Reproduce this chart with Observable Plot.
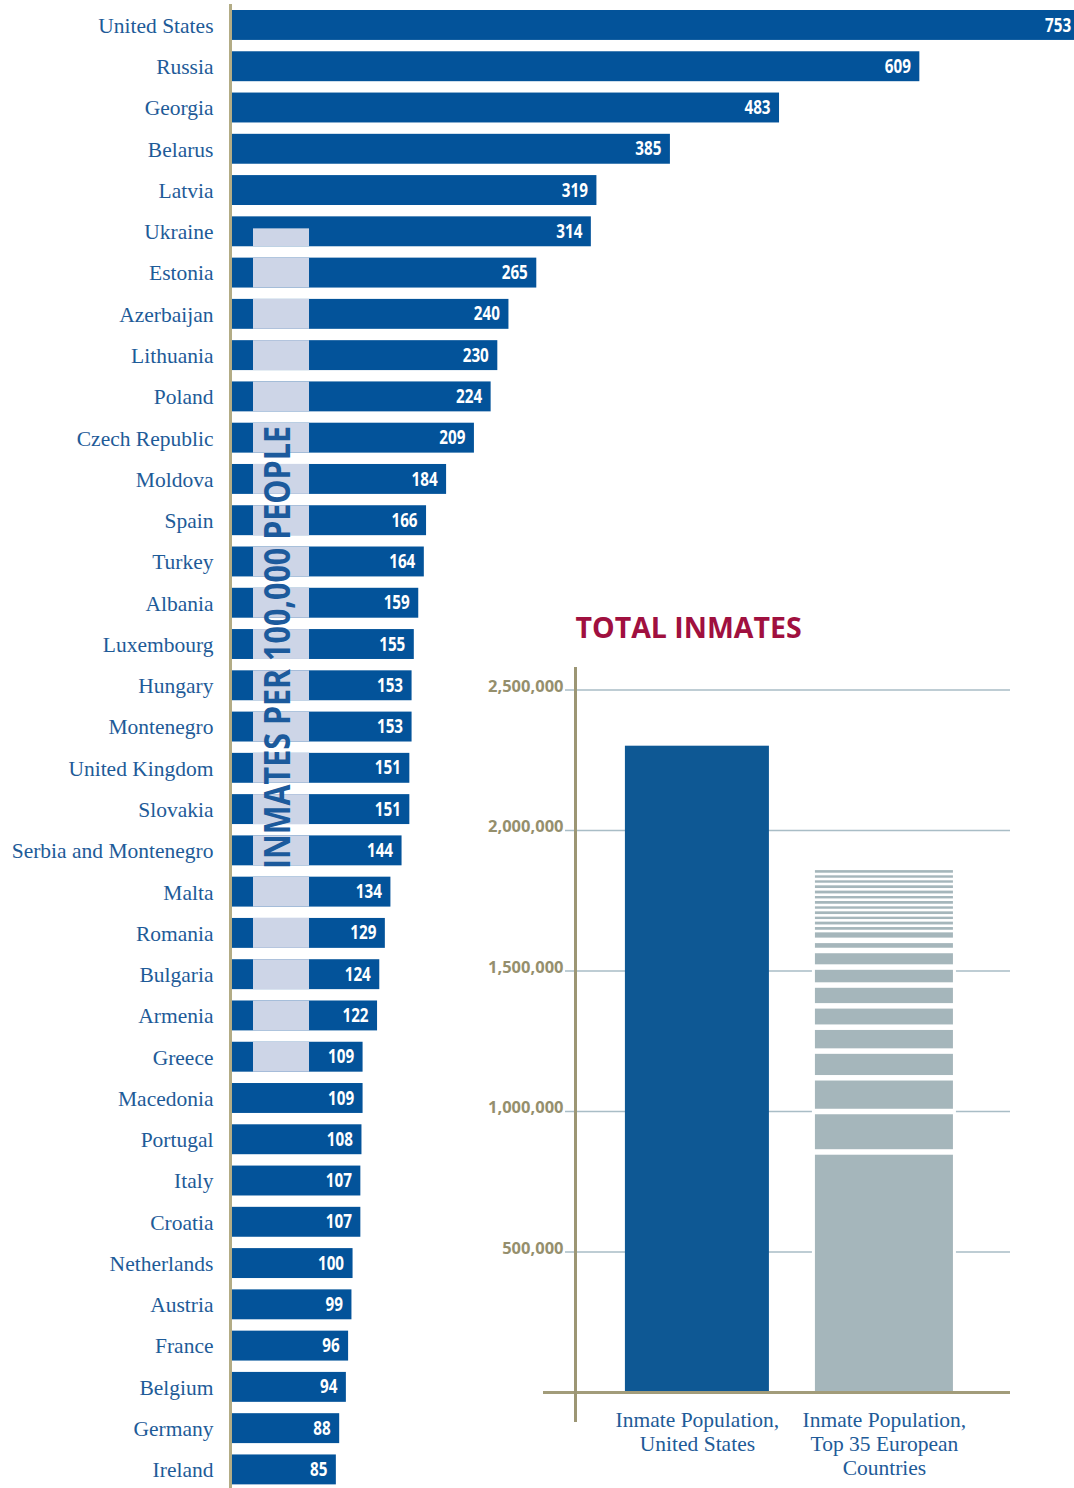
<!DOCTYPE html>
<html><head><meta charset="utf-8">
<script src="https://cdn.jsdelivr.net/npm/d3@7"></script>
<script src="https://cdn.jsdelivr.net/npm/@observablehq/plot@0.6"></script>
<style>
body{margin:0;background:#fff;}
#wrap{position:relative;width:1074px;height:1488px;overflow:hidden;background:#fff;}
#wrap svg{position:absolute;left:0;top:0;}
</style></head><body><div id="wrap"></div>
<script>
// ---- data: inmates per 100,000 people ----
const countries = ["United States","Russia","Georgia","Belarus","Latvia","Ukraine","Estonia","Azerbaijan","Lithuania","Poland","Czech Republic","Moldova","Spain","Turkey","Albania","Luxembourg","Hungary","Montenegro","United Kingdom","Slovakia","Serbia and Montenegro","Malta","Romania","Bulgaria","Armenia","Greece","Macedonia","Portugal","Italy","Croatia","Netherlands","Austria","France","Belgium","Germany","Ireland"];
const rates = [753,609,483,385,319,314,265,240,230,224,209,184,166,164,159,155,153,153,151,151,144,134,129,124,122,109,109,108,107,107,100,99,96,94,88,85];
const bandRows = ["Ukraine","Estonia","Azerbaijan","Lithuania","Poland","Czech Republic","Moldova","Spain","Turkey","Albania","Luxembourg","Hungary","Montenegro","United Kingdom","Slovakia","Serbia and Montenegro","Malta","Romania","Bulgaria","Armenia","Greece"];
const rateLabel = "INMATES PER 100,000 PEOPLE";

// ---- data: total inmates ----
const totalTitle = "TOTAL INMATES";
const totalCategories = ["Inmate Population,\nUnited States","Inmate Population,\nTop 35 European\nCountries"];
const usTotal = 2300000;
const euroSegments = [864000,144000,120000,95000,85000,76000,74000,64000,59000,36000,28000,18900,19200,17800,18900,17800,18900,17800,19200,18900,17800,17800,18500];
const totalTicks = [500000,1000000,1500000,2000000,2500000];

// ---- styles ----
const blue = "#03539a";
const labelBlue = "#1e5b98";
const serif = "'Liberation Serif', 'Times New Roman', serif";
const sans = "'Open Sans', 'Liberation Sans', sans-serif";

const rows = countries.map((c, i) => ({country: c, rate: rates[i]}));

const left = Plot.plot({
  width: 1074, height: 1488,
  marginLeft: 230, marginRight: 0, marginTop: 5, marginBottom: 0,
  style: {background: "transparent"},
  x: {domain: [-10.06, 747.9], axis: null},
  y: {domain: countries, range: [4.33, 1490.05], paddingInner: 0.275, paddingOuter: 0.1375, round: false},
  marks: [
    Plot.barX(rows, {y: "country", x: "rate", fill: blue, insetLeft: -9.2, clip: true}),
    Plot.barX(bandRows.slice(1), {y: d => d, x1: () => 10.6, x2: () => 60.9, fill: "#cdd5e7"}),
    Plot.barX(bandRows.slice(0, 1), {y: d => d, x1: () => 10.6, x2: () => 60.9, fill: "#cdd5e7", insetTop: 12}),
    Plot.text([{label: rateLabel, row: "Luxembourg"}], {x: () => 33.5, y: "row", text: "label", rotate: -90, dy: 3,
      fill: "#1c5a9c", fontFamily: sans, fontWeight: "bold", fontSize: 35, className: "rate-label"}),
    Plot.text(rows, {y: "country", x: "rate", text: d => String(d.rate), textAnchor: "end", dx: -9,
      fill: "white", fontFamily: sans, fontWeight: "bold", fontSize: 19, className: "value-label"}),
    Plot.axisY({tickSize: 0, tickPadding: 17, fontFamily: serif, fontSize: 21.5, color: labelBlue, label: null, dy: 0.5}),
    Plot.frame({anchor: "left", stroke: "#b3ac85", strokeWidth: 3})
  ]
});

let acc = 0;
const segs = euroSegments.map((v, i) => {
  const s = {cat: totalCategories[1], y1: acc, y2: acc + v, big: i < 10};
  acc += v;
  return s;
});

const right = Plot.plot({
  width: 1074, height: 1488,
  marginLeft: 575, marginRight: 64, marginTop: 689.5, marginBottom: 96,
  style: {background: "transparent", overflow: "visible"},
  x: {domain: totalCategories, paddingInner: 0.23, paddingOuter: 0.278, align: 0.48, round: false, axis: null},
  y: {domain: [0, 2500000], axis: null},
  marks: [
    Plot.ruleY(totalTicks, {stroke: "#a9bdc6", strokeWidth: 1.5, insetLeft: -10}),
    Plot.axisY(totalTicks, {tickSize: 0, tickPadding: 12, tickFormat: d3.format(","), fontFamily: sans, fontWeight: "bold",
      fontSize: 16.5, color: "#958f6d", dy: -3.5, label: null}),
    Plot.barY([{cat: totalCategories[0], value: usTotal}], {x: "cat", y: "value", fill: "#0e5894"}),
    Plot.barY([{cat: totalCategories[1], value: d3.sum(euroSegments)}], {x: "cat", y: "value", fill: "white"}),
    Plot.barY(segs.filter(d => d.big), {x: "cat", y1: "y1", y2: "y2", fill: "#a5b6bb", insetTop: 5.5, insetLeft: 3, insetRight: 3}),
    Plot.barY(segs.filter(d => !d.big), {x: "cat", y1: "y1", y2: "y2", fill: "#a5b6bb", insetTop: 2.6, insetLeft: 3, insetRight: 3}),
    Plot.ruleY([0], {stroke: "#a29c7a", strokeWidth: 3, insetLeft: -32}),
    Plot.frame({anchor: "left", stroke: "#9c9674", strokeWidth: 3, insetTop: -21.5, insetBottom: -28}),
    Plot.text(totalCategories, {x: d => d, frameAnchor: "bottom", lineAnchor: "top", dy: 18, lineHeight: 1.1,
      fontFamily: serif, fontSize: 21.5, fill: labelBlue}),
    Plot.text([totalTitle], {frameAnchor: "top-left", textAnchor: "start", lineAnchor: "middle", dy: -61,
      fontFamily: sans, fontWeight: "bold", fontSize: 28.5, fill: "#a0103f"})
  ]
});

const wrap = document.getElementById("wrap");
wrap.appendChild(left);
wrap.appendChild(right);

// condense the sans labels horizontally (condensed bold face of the original)
function condense(selector, ratio) {
  wrap.querySelectorAll(selector).forEach(t => {
    const w = t.getComputedTextLength();
    if (w > 0) {
      t.setAttribute("textLength", (w * ratio).toFixed(1));
      t.setAttribute("lengthAdjust", "spacingAndGlyphs");
    }
  });
}
condense(".value-label text", 0.8);
condense(".rate-label text", 0.87);
</script>
</body></html>
